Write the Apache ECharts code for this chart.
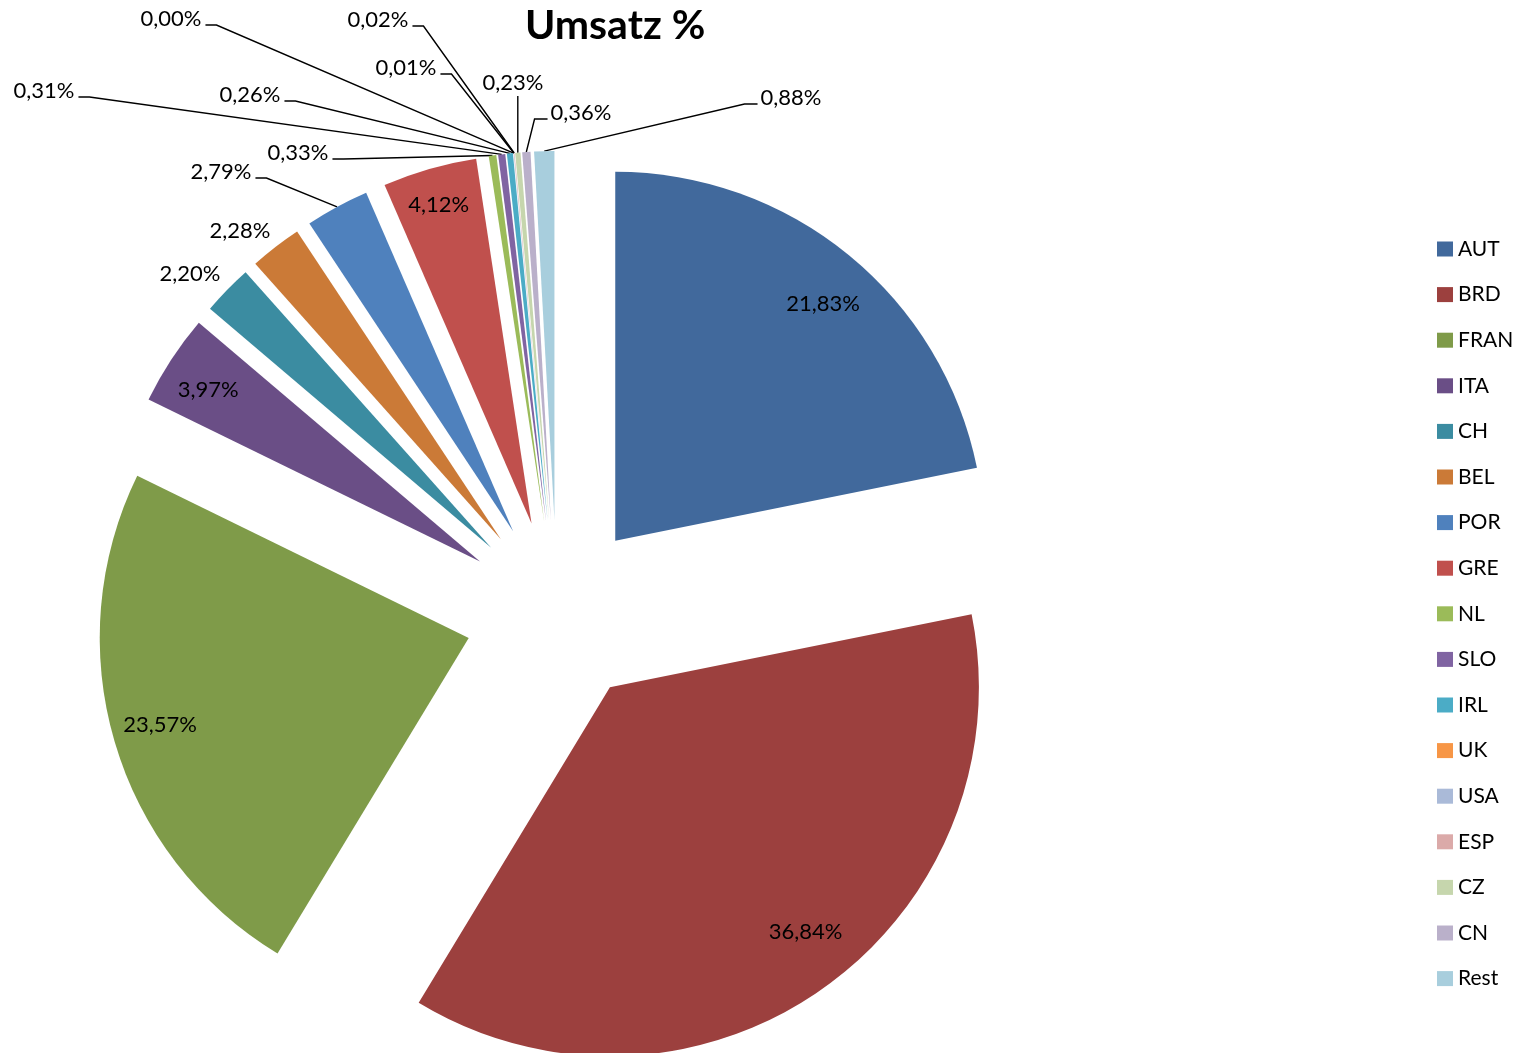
<!DOCTYPE html>
<html>
<head>
<meta charset="utf-8">
<script src="https://cdn.jsdelivr.net/npm/echarts@6/dist/echarts.min.js"></script>
<style>
html,body{margin:0;padding:0;background:#ffffff;}
#chart{width:1519px;height:1053px;}
</style>
</head>
<body>
<div id="chart"></div>
<script>
// ---- data ----
const categories = ['AUT','BRD','FRAN','ITA','CH','BEL','POR','GRE','NL','SLO','IRL','UK','USA','ESP','CZ','CN','Rest'];
const shares = [21.83,36.84,23.57,3.97,2.20,2.28,2.79,4.12,0.33,0.31,0.26,0.00,0.01,0.02,0.23,0.36,0.88];
const titleText = 'Umsatz %';

// ---- styles / layout ----
const colors = ['#41699C','#9C403E','#7F9B49','#6A4E86','#3B8CA1','#CB7A37','#4F81BD','#C0504D','#9BBB59','#8064A2','#4BACC6','#F79646','#AABAD8','#DBAAA9','#C6D6AD','#BAB0CA','#A8CEDD'];
const CX = 557, CY = 612, R = 369, EXPLODE = 92;
const FONT = 'Lato';
// label placement: inside (fraction of radius, angular nudge in degrees) or outside anchor
const labelPlacement = {
  AUT:{inside:0.853, turn:2.0}, BRD:{inside:0.848, turn:-3.6}, FRAN:{inside:0.869, turn:0.7},
  ITA:{inside:0.871, turn:-1.0}, GRE:{inside:0.9, turn:-0.2},
  CH:{at:[190,274], line:false}, BEL:{at:[240,231], line:false}, POR:{at:[221,172], line:true},
  NL:{at:[298,153], line:true}, SLO:{at:[44,91], line:true}, IRL:{at:[250,95], line:true},
  UK:{at:[171,19], line:true}, USA:{at:[406,68], line:true}, ESP:{at:[378,20], line:true},
  CZ:{at:[513,83], line:true}, CN:{at:[581,113], line:true}, Rest:{at:[791,98], line:true}
};

const total = shares.reduce((a,b)=>a+b,0);
let acc = 0;
const mids = shares.map(v => { const m = (acc + v/2) / total * 2 * Math.PI; acc += v; return m; });

function fmt(v){ return v.toFixed(2).replace('.', ',') + '%'; }

const series = categories.map((cat, i) => {
  const mid = mids[i];
  const cx = CX + EXPLODE * Math.sin(mid);
  const cy = CY - EXPLODE * Math.cos(mid);
  const place = labelPlacement[cat];
  const inside = place.inside != null;
  return {
    type: 'pie',
    name: cat,
    center: [cx, cy],
    radius: [0, R],
    startAngle: 90,
    clockwise: true,
    avoidLabelOverlap: false,
    silent: true,
    animation: false,
    emphasis: {disabled: true},
    itemStyle: {borderWidth: 0},
    label: {show: false},
    labelLine: {show: false},
    data: categories.map((name, j) => ({
      name: name,
      value: shares[j],
      itemStyle: {color: j === i ? colors[j] : 'rgba(0,0,0,0)', borderWidth: 0},
      label: {
        show: j === i,
        position: inside ? 'inside' : 'outside',
        formatter: p => fmt(p.value),
        color: '#000000',
        fontFamily: FONT,
        fontSize: 22
      },
      labelLine: {
        show: j === i && !inside && !!place.line,
        lineStyle: {color: '#000000', width: 1.4}
      }
    })),
    labelLayout: function (p) {
      if (inside) {
        const a = mid + (place.turn || 0) * Math.PI / 180;
        return {
          x: cx + place.inside * R * Math.sin(a),
          y: cy - place.inside * R * Math.cos(a),
          align: 'center', verticalAlign: 'middle'
        };
      }
      const ax = place.at[0], ay = place.at[1];
      const res = {x: ax, y: ay, align: 'center', verticalAlign: 'middle'};
      if (place.line) {
        const w = p.labelRect.width, h = p.labelRect.height;
        const px = cx + R * Math.sin(mid), py = cy - R * Math.cos(mid);
        let end, elbow;
        if (Math.abs(ax - px) < w / 2) {
          end = [px, ay + h / 2 + 2]; elbow = end;
        } else if (ax < px) {
          end = [ax + w / 2 + 4, ay + 6]; elbow = [end[0] + 11, ay + 6];
        } else {
          end = [ax - w / 2 - 3, ay + 6]; elbow = [end[0] - 13, ay + 6];
        }
        res.labelLinePoints = [[px, py], elbow, end];
      }
      return res;
    }
  };
});

const chart = echarts.init(document.getElementById('chart'), null, {renderer: 'canvas'});
chart.setOption({
  backgroundColor: '#ffffff',
  animation: false,
  textStyle: {fontFamily: FONT},
  title: {
    text: titleText,
    left: 525, top: 5, padding: 0,
    textStyle: {fontFamily: FONT, fontWeight: 'bold', fontSize: 41, color: '#000000'}
  },
  legend: {
    orient: 'vertical',
    left: 1437, top: 238,
    padding: 0,
    itemWidth: 16, itemHeight: 15, itemGap: 23.6,
    icon: 'rect',
    selectedMode: false,
    textStyle: {fontFamily: FONT, fontSize: 21, color: '#000000', lineHeight: 22},
    data: categories.map((n, i) => ({name: n, itemStyle: {color: colors[i]}}))
  },
  series: series
});
</script>
</body>
</html>
